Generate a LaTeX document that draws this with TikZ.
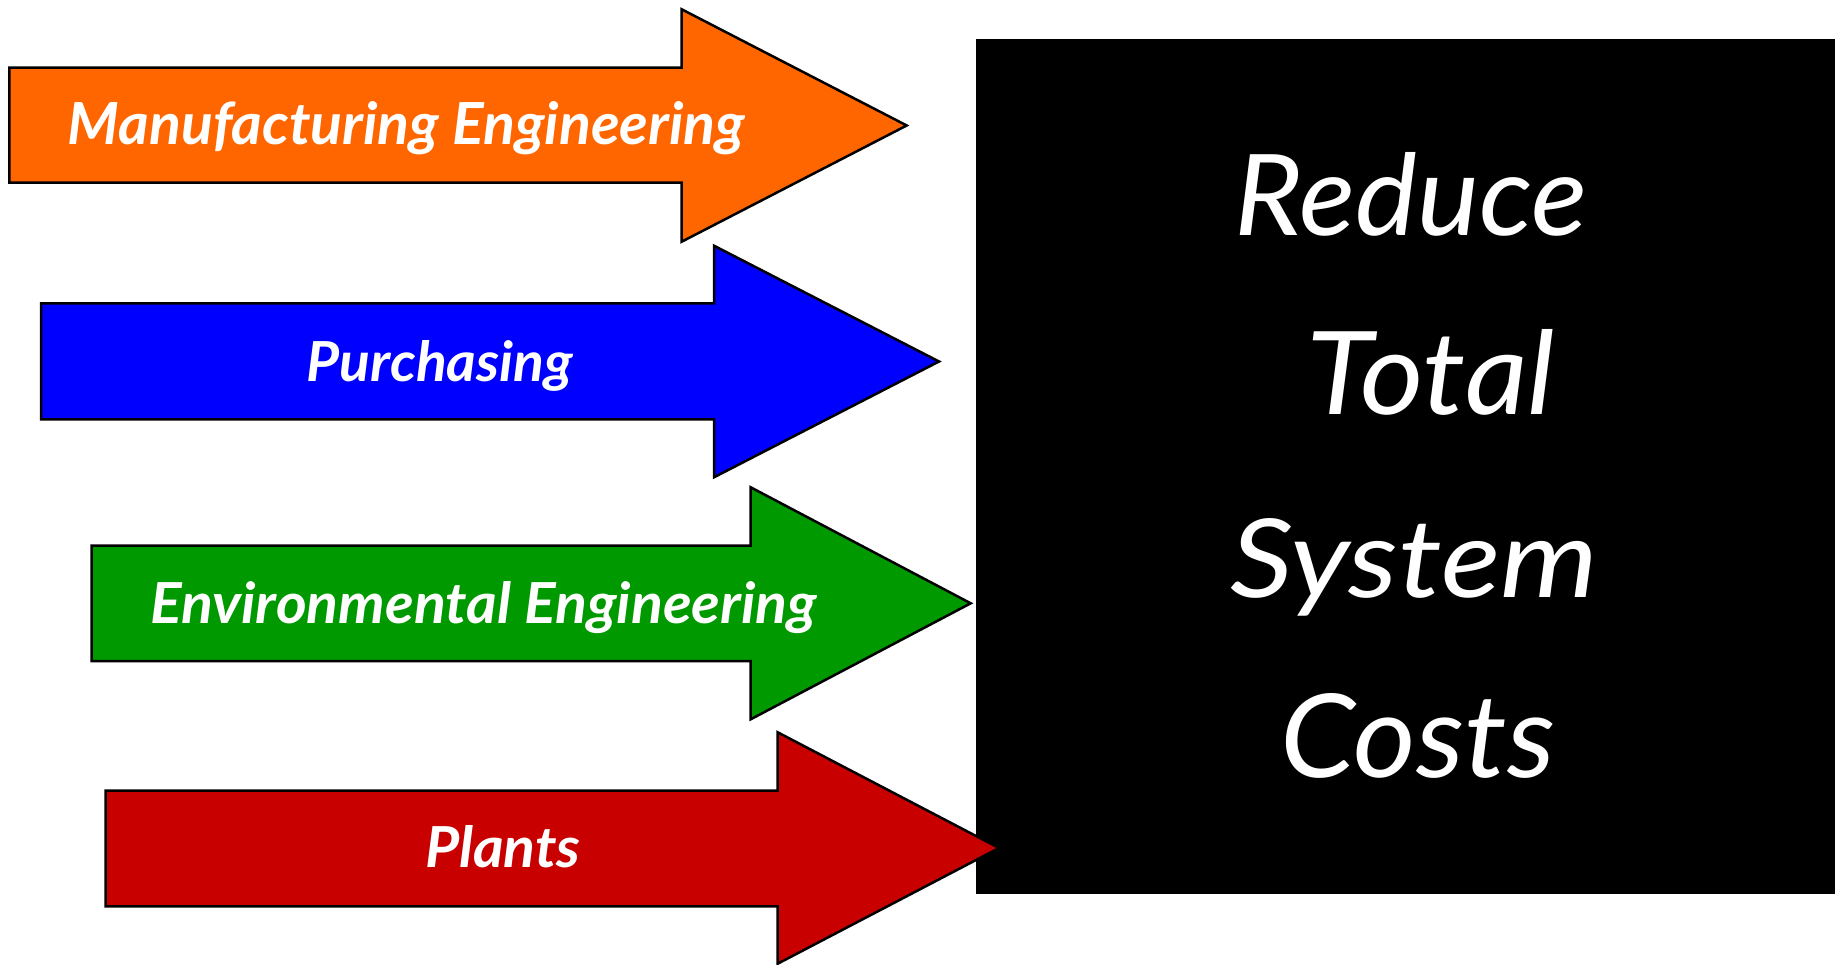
\documentclass[tikz,border=0pt]{standalone}
\usepackage{fontspec}
\setmainfont{Lato}
\usepackage{graphicx}
\newcommand{\fitbox}[3]{\resizebox{#1pt}{#2pt}{#3}}
\definecolor{cmfg}{RGB}{255,102,0}
\definecolor{cpur}{RGB}{0,0,255}
\definecolor{cenv}{RGB}{0,153,0}
\definecolor{cpla}{RGB}{200,0,0}
\begin{document}
\begin{tikzpicture}[x=1pt,y=-1pt,
  arrowshape/.style={draw=black, line width=2.5pt, line join=miter},
  lefttext/.style={text=white, anchor=base, inner sep=0pt, font=\bfseries\itshape},
  righttext/.style={text=white, anchor=base, inner sep=0pt, font=\itshape}]
\useasboundingbox (0,0) rectangle (1839,965);
\fill[white] (0,0) rectangle (1839,965);
\node[fill=black, inner sep=0pt, minimum width=859pt, minimum height=855pt, anchor=north west] (goal) at (975.7,39) {};
% arrows
\draw[arrowshape, fill=cmfg] (9.4,67.7) -- (681.7,67.7) -- (681.7,9.3) -- (906.7,125.5) -- (681.7,241.7) -- (681.7,182.7) -- (9.4,182.7) -- cycle;
\draw[arrowshape, fill=cpur] (41,303.3) -- (714,303.3) -- (714,245.7) -- (939,361.5) -- (714,477.3) -- (714,419.3) -- (41,419.3) -- cycle;
\draw[arrowshape, fill=cenv] (91.5,545.7) -- (750.7,545.7) -- (750.7,487.3) -- (970.7,603.3) -- (750.7,719.3) -- (750.7,661) -- (91.5,661) -- cycle;
\draw[arrowshape, fill=cpla] (105.6,790.5) -- (777.7,790.5) -- (777.7,732.3) -- (999,848) -- (777.7,963.7) -- (777.7,906.3) -- (105.6,906.3) -- cycle;
% left texts
\node[lefttext] (mfg) at (406.5,145) {\fitbox{677}{43}{Manufacturing Engineering}};
\node[lefttext] (pur) at (440,381.7) {\fitbox{266}{41}{Purchasing}};
\node[lefttext] (env) at (483.7,623) {\fitbox{666}{42}{Environmental Engineering}};
\node[lefttext] (pla) at (503,867.7) {\fitbox{155.5}{42}{Plants}};
% right texts
\node[righttext] (r1) at (1411,236) {\fitbox{353}{83}{Reduce}};
\node[righttext] (r2) at (1431,415) {\fitbox{248}{85}{Total}};
\node[righttext] (r3) at (1414,597) {\fitbox{368}{79}{System}};
\node[righttext] (r4) at (1418,777) {\fitbox{275}{84}{Costs}};
\end{tikzpicture}
\end{document}
